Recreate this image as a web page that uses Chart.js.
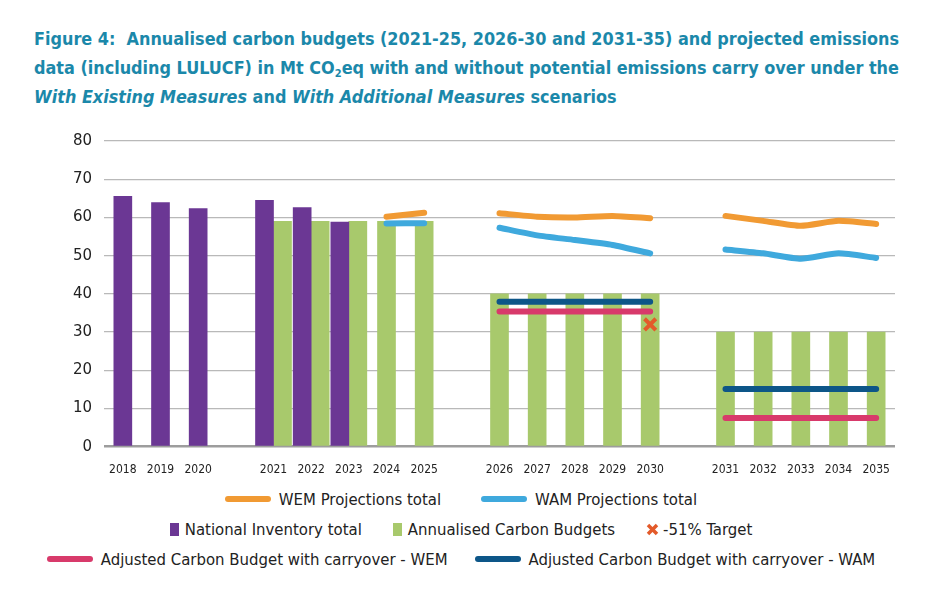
<!DOCTYPE html>
<html>
<head>
<meta charset="utf-8">
<script src="https://cdn.jsdelivr.net/npm/chart.js@4.4.0/dist/chart.umd.min.js"></script>
<style>
  body { margin: 0; background: #fff; width: 939px; height: 599px; overflow: hidden; position: relative;
         font-family: 'DejaVu Sans Condensed', 'DejaVu Sans', sans-serif; }
  #title { position: absolute; left: 34px; top: 24px; width: 905px; color: #1b88aa; font-weight: bold;
           font-size: 17.85px; line-height: 29px; white-space: nowrap; }
  #title sub { font-size: 11px; vertical-align: -3px; line-height: 0; }
  #wrap { position: absolute; left: 0; top: 120px; width: 939px; height: 360px; }
  #legend { position: absolute; left: 0; top: 484px; width: 922px; }
  .row { display: flex; justify-content: center; align-items: center; height: 30px;
         font-size: 16.6px; color: #222; }
  .item { display: flex; align-items: center; white-space: nowrap; }
  .sw-line { width: 46px; height: 6px; border-radius: 3px; margin-right: 8px; }
  .sw-box { width: 9px; height: 13px; margin-right: 6px; }
  .sw-x { margin-right: 4px; }
</style>
</head>
<body>
<div id="title">Figure 4:&nbsp; Annualised carbon budgets (2021-25, 2026-30 and 2031-35) and projected emissions<br>
data (including LULUCF) in Mt CO<sub>2</sub>eq with and without potential emissions carry over under the<br>
<i>With Existing Measures</i> and <i>With Additional Measures</i> scenarios</div>
<div id="wrap"><canvas id="myChart"></canvas></div>
<div id="legend"></div>
<script>
const ctx = document.getElementById('myChart').getContext('2d');

// categories, '' = gap between budget periods
var years = ['2018', '2019', '2020', '', '2021', '2022', '2023', '2024', '2025', '',
             '2026', '2027', '2028', '2029', '2030', '', '2031', '2032', '2033', '2034', '2035'];

var inventory = [65.5, 63.9, 62.3, null, 64.5, 62.6, 58.8, null, null, null,
                 null, null, null, null, null, null, null, null, null, null, null];
var budgets = [null, null, null, null, 59, 59, 59, 59, 59, null,
               40, 40, 40, 40, 40, null, 30, 30, 30, 30, 30];
var wem = [null, null, null, null, null, null, null, 60.2, 61.2, null,
           61.1, 60.2, 60.0, 60.4, 59.8, null, 60.4, 59.1, 57.8, 59.1, 58.3];
var wam = [null, null, null, null, null, null, null, 58.4, 58.5, null,
           57.3, 55.3, 54.1, 52.8, 50.6, null, 51.6, 50.6, 49.2, 50.6, 49.4];
var adjWem = [null, null, null, null, null, null, null, null, null, null,
              35.4, 35.4, 35.4, 35.4, 35.4, null, 7.5, 7.5, 7.5, 7.5, 7.5];
var adjWam = [null, null, null, null, null, null, null, null, null, null,
              37.9, 37.9, 37.9, 37.9, 37.9, null, 15.1, 15.1, 15.1, 15.1, 15.1];
var target = [null, null, null, null, null, null, null, null, null, null,
              null, null, null, null, 32, null, null, null, null, null, null];
var yTicks = [0, 10, 20, 30, 40, 50, 60, 70, 80];

// legend rows as in the figure
var legendRows = [
    ['WEM Projections total', 'WAM Projections total'],
    ['National Inventory total', 'Annualised Carbon Budgets', '-51% Target'],
    ['Adjusted Carbon Budget with carryover - WEM', 'Adjusted Carbon Budget with carryover - WAM']
];
var rowGaps = [40, 31, 27];

function lineSet(label, data, color) {
    return {
        type: 'line', label: label, data: data, borderColor: color, backgroundColor: color,
        borderWidth: 6, borderCapStyle: 'round', borderJoinStyle: 'round',
        pointRadius: 0, tension: 0.2, spanGaps: false, order: 1
    };
}

const myChart = new Chart(ctx, {
    type: 'bar',
    data: {
        labels: years,
        datasets: [
            {
                type: 'line', label: '-51% Target', data: target, showLine: false,
                pointStyle: 'crossRot', pointRadius: 8, pointBorderWidth: 4,
                borderColor: '#e35a2a', backgroundColor: '#e35a2a', order: 0
            },
            lineSet('WEM Projections total', wem, '#f19a33'),
            lineSet('WAM Projections total', wam, '#3fa9dd'),
            lineSet('Adjusted Carbon Budget with carryover - WEM', adjWem, '#d83a6b'),
            lineSet('Adjusted Carbon Budget with carryover - WAM', adjWam, '#0d5688'),
            {
                label: 'National Inventory total', data: inventory, backgroundColor: '#6b3794',
                barThickness: 18, order: 2
            },
            {
                label: 'Annualised Carbon Budgets', data: budgets, backgroundColor: '#a8c96c',
                barThickness: 18, order: 3
            }
        ]
    },
    options: {
        responsive: true,
        maintainAspectRatio: false,
        animation: false,
        skipNull: true,
        layout: { padding: { top: 12.7, right: 44, left: 0, bottom: 0 } },
        plugins: { legend: { display: false }, tooltip: { enabled: false } },
        scales: {
            x: {
                grid: { display: false },
                border: { display: false },
                ticks: {
                    autoSkip: false, maxRotation: 0, padding: 8, color: '#222',
                    font: { family: 'DejaVu Sans Condensed', size: 12 }
                },
                afterFit: function (axis) { axis.height = 33.3; }
            },
            y: {
                min: 0, max: 80,
                afterBuildTicks: function (axis) { axis.ticks = yTicks.map(v => ({ value: v })); },
                border: { display: false },
                grid: {
                    drawTicks: false,
                    color: c => c.tick.value === 0 ? '#9d9d9d' : '#b9b9b9',
                    lineWidth: c => c.tick.value === 0 ? 2.5 : 1.3
                },
                ticks: {
                    padding: 12, color: '#222',
                    font: { family: 'DejaVu Sans', size: 15 }
                },
                afterFit: function (axis) { axis.width = 104; }
            }
        }
    }
});

// html legend in three rows
var legendEl = document.getElementById('legend');
legendRows.forEach(function (row, r) {
    var rowEl = document.createElement('div');
    rowEl.className = 'row';
    rowEl.style.gap = rowGaps[r] + 'px';
    row.forEach(function (label) {
        var ds = myChart.data.datasets.find(d => d.label === label);
        var item = document.createElement('div');
        item.className = 'item';
        var sw;
        if (ds.pointStyle === 'crossRot') {
            sw = document.createElementNS('http://www.w3.org/2000/svg', 'svg');
            sw.setAttribute('width', '13');
            sw.setAttribute('height', '13');
            sw.setAttribute('class', 'sw-x');
            sw.innerHTML = '<path d="M2 2 L11 11 M11 2 L2 11" stroke="' + ds.borderColor +
                           '" stroke-width="3.5" stroke-linecap="butt"/>';
        } else {
            sw = document.createElement('div');
            sw.className = ds.type === 'line' ? 'sw-line' : 'sw-box';
            sw.style.background = ds.backgroundColor;
        }
        item.appendChild(sw);
        var txt = document.createElement('span');
        txt.textContent = label;
        item.appendChild(txt);
        rowEl.appendChild(item);
    });
    legendEl.appendChild(rowEl);
});
</script>
</body>
</html>
